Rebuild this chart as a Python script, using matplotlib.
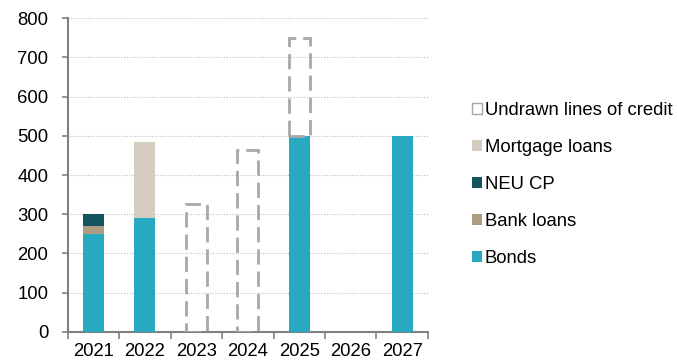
import numpy as np
import matplotlib.pyplot as plt
from matplotlib.patches import Patch

plt.rcParams['font.family'] = ['Liberation Sans', 'DejaVu Sans']

years = ['2021', '2022', '2023', '2024', '2025', '2026', '2027']
bonds = [250, 290, 0, 0, 500, 0, 500]
bank_loans = [20, 0, 0, 0, 0, 0, 0]
neu_cp = [30, 0, 0, 0, 0, 0, 0]
mortgage = [0, 195, 0, 0, 0, 0, 0]
undrawn = [0, 0, 325, 465, 250, 0, 0]

c_bonds = '#26A9C1'
c_bank = '#AC9C82'
c_neu = '#13545E'
c_mort = '#D5CDC0'
c_undrawn = '#A8A8A8'

fig = plt.figure(figsize=(6.77, 3.62), dpi=100)
ax = fig.add_axes([0.100, 0.083, 0.532, 0.867])

x = np.arange(len(years))
w = 0.41
bottom = np.zeros(len(years))
ax.bar(x, bonds, w, bottom=bottom, color=c_bonds, zorder=3)
bottom += bonds
ax.bar(x, bank_loans, w, bottom=bottom, color=c_bank, zorder=3)
bottom += bank_loans
ax.bar(x, neu_cp, w, bottom=bottom, color=c_neu, zorder=3)
bottom += neu_cp
ax.bar(x, mortgage, w, bottom=bottom, color=c_mort, zorder=3)
bottom += mortgage
mask = np.array(undrawn) > 0
ax.bar(x[mask], np.array(undrawn)[mask], w, bottom=bottom[mask], fill=False,
       edgecolor=c_undrawn, linewidth=2, linestyle=(0, (5.5, 2.5)), zorder=4)

ax.set_xlim(-0.5, len(years) - 0.5)
ax.set_ylim(0, 800)
ax.set_yticks(range(0, 801, 100))
ax.yaxis.grid(True, linestyle=(0, (1, 1.5)), color='#BFBFBF', linewidth=0.8, zorder=0)
ax.set_axisbelow(True)

# category labels centred, tick marks between categories
ax.set_xticks(x)
ax.set_xticklabels(years)
ax.tick_params(axis='x', length=0, labelsize=13.3, pad=8)
ax.set_xticks(np.arange(-0.5, len(years), 1), minor=True)
ax.tick_params(axis='x', which='minor', length=5, width=1.2, color='#808080', direction='out')
ax.tick_params(axis='y', length=4, width=1.2, color='#808080', labelsize=13.3, pad=10)

for s in ['top', 'right']:
    ax.spines[s].set_visible(False)
for s in ['left', 'bottom']:
    ax.spines[s].set_color('#808080')
    ax.spines[s].set_linewidth(1.5)

handles = [
    Patch(facecolor='white', edgecolor=c_undrawn, linewidth=1, label='Undrawn lines of credit'),
    Patch(facecolor=c_mort, label='Mortgage loans'),
    Patch(facecolor=c_neu, label='NEU CP'),
    Patch(facecolor=c_bank, label='Bank loans'),
    Patch(facecolor=c_bonds, label='Bonds'),
]
fig.legend(handles=handles, loc='center left', bbox_to_anchor=(0.686, 0.49),
           frameon=False, fontsize=13.3, handlelength=0.55, handleheight=0.55,
           handletextpad=0.15, labelspacing=1.08, borderaxespad=0)

fig.savefig('out.png', dpi=100)
